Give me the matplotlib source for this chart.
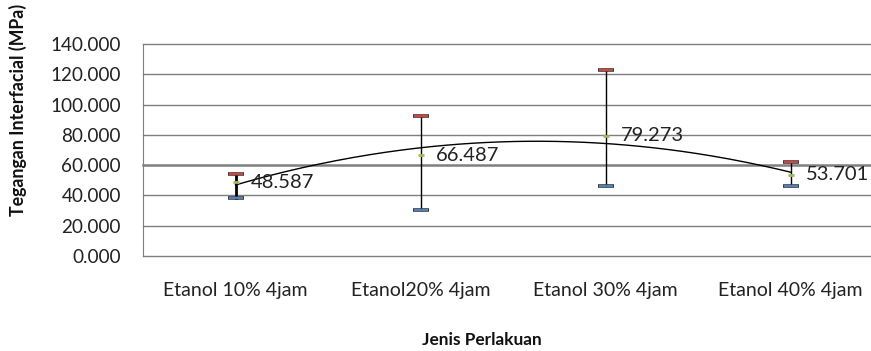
import numpy as np
import matplotlib.pyplot as plt

# Interfacial tension per ethanol treatment
categories = ['Etanol 10% 4jam', 'Etanol20% 4jam', 'Etanol 30% 4jam', 'Etanol 40% 4jam']
means = [48.587, 66.487, 79.273, 53.701]
upper = [54.0, 92.3, 122.6, 61.9]
lower = [38.5, 30.6, 46.4, 46.4]
yticks = [0, 20, 40, 60, 80, 100, 120, 140]

plt.rcParams['font.family'] = ['Lato', 'DejaVu Sans']

fig = plt.figure(figsize=(8.71, 3.51), dpi=100)
ax = fig.add_axes([143/871, 95/351, 740/871, 212/351])

x = np.arange(len(categories))

# gridlines
for t in yticks:
    lw = 1.8 if t == 60 else 1.0
    ax.axhline(t, color='#7f7f7f', lw=lw, zorder=1, clip_on=False)

# error bars: black stem, red upper cap, blue lower cap
for i in range(len(x)):
    stem_lw = 2.0 if i == 0 else 1.0
    ax.plot([x[i], x[i]], [lower[i], upper[i]], color='black', lw=stem_lw, zorder=3)
ax.plot(x, upper, ls='none', marker='_', ms=11, mew=2.6, color='#3a3a3a', zorder=4)
ax.plot(x, upper, ls='none', marker='_', ms=10, mew=1.5, color='#d9413e', zorder=5)
ax.plot(x, lower, ls='none', marker='_', ms=11, mew=2.6, color='#3a3a3a', zorder=4)
ax.plot(x, lower, ls='none', marker='_', ms=10, mew=1.5, color='#4f81bd', zorder=5)

# point markers
ax.plot(x, means, ls='none', marker='_', ms=4, mew=2, color='#9bbb59', zorder=6)

# polynomial trendline
coef = np.polyfit(x, means, 2)
xs = np.linspace(x[0], x[-1], 200)
ax.plot(xs, np.polyval(coef, xs), color='black', lw=1.0, zorder=4)

# data labels
for xi, m in zip(x, means):
    ax.annotate(f'{m:.3f}', (xi, m), xytext=(15, 0), textcoords='offset pixels',
                ha='left', va='center', fontsize=14.5, color='#222222', zorder=7)

ax.set_xlim(-0.5, 3.5)
ax.set_ylim(0, 140)
ax.set_yticks(yticks)
ax.set_yticklabels([f'{t:.3f}' for t in yticks], fontsize=13.6, color='#222222')
ax.set_xticks(x)
ax.set_xticklabels(categories, fontsize=14, color='#222222')
ax.tick_params(axis='y', length=0, pad=16)
ax.tick_params(axis='x', length=0, pad=19)
for s in ['top', 'right', 'bottom']:
    ax.spines[s].set_visible(False)
ax.spines['left'].set_color('#7f7f7f')

fig.text(482/871, 1 - 340/351, 'Jenis Perlakuan', ha='center', va='center',
         fontsize=12.4, fontweight='bold', color='#111111')
fig.text(18/871, 1 - 110/351, 'Tegangan Interfacial (MPa)', ha='center', va='center',
         rotation=90, fontsize=12.8, fontweight='bold', color='#111111')

fig.savefig('out.png', dpi=100)
